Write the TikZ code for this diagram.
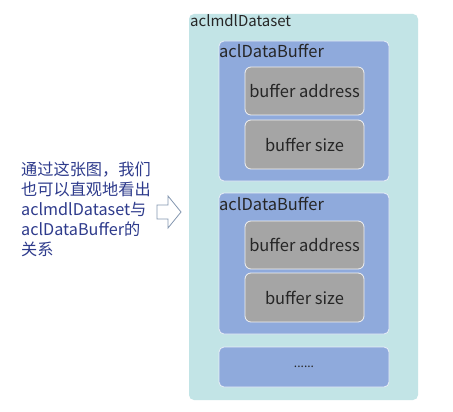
\documentclass[tikz,border=0pt]{standalone}
\usepackage{fontspec}
\setmainfont{Noto Sans CJK SC}
\definecolor{outerc}{HTML}{C2E4E6}
\definecolor{bufc}{HTML}{8FAADC}
\definecolor{grayc}{HTML}{A5A5A5}
\definecolor{navy}{HTML}{2E3B8C}
\definecolor{arrowc}{HTML}{8497B0}
\tikzset{
  outerbox/.style={fill=outerc, draw=none, rounded corners=5pt},
  bufbox/.style={fill=bufc, draw=white!80!bufc, line width=0.8pt, rounded corners=5pt},
  graybox/.style={fill=grayc, draw=white!85!grayc, line width=0.8pt, rounded corners=6pt,
     font=\fontsize{16.5}{19}\selectfont, text=black!85},
  lbl/.style={anchor=west, inner sep=0pt, font=\fontsize{15}{18}\selectfont, text=black!85},
  blbl/.style={lbl, font=\fontsize{16.5}{19}\selectfont},
  hollowarrow/.style={draw=arrowc, fill=white, line width=0.8pt, line join=miter},
}
\begin{document}
\begin{tikzpicture}[x=1pt,y=-1pt]
\useasboundingbox[fill=white] (0,0) rectangle (453,412);
% outer
\path[outerbox] (189,14) rectangle (418,400);
\node[lbl] (dslbl) at (190,21) {aclmdlDataset};
% buffer 1
\path[bufbox] (219,41) rectangle (389,181);
\node[blbl] (b1lbl) at (219,51) {aclDataBuffer};
\node[graybox, minimum width=119pt, minimum height=48pt] (b1a) at (304.5,91) {buffer address};
\node[graybox, minimum width=119pt, minimum height=49pt] (b1s) at (304.5,144.5) {buffer size};
% buffer 2
\path[bufbox] (219,193) rectangle (389,334);
\node[blbl] (b2lbl) at (219,204) {aclDataBuffer};
\node[graybox, minimum width=119pt, minimum height=48pt] (b2a) at (304.5,245) {buffer address};
\node[graybox, minimum width=119pt, minimum height=49pt] (b2s) at (304.5,297.5) {buffer size};
% dots
\path[bufbox] (219,347) rectangle (389,387);
\node[font=\fontsize{12}{14}\selectfont, text=black!85] (dots) at (304,367) {......};
% left text
\node[anchor=north west, inner sep=0pt, align=left, text=navy,
      font=\fontsize{16.2}{20}\selectfont] (desc) at (21,162)
  {通过这张图，我们\\也可以直观地看出\\aclmdlDataset与\\aclDataBuffer的\\关系};
% hollow arrow
\coordinate (arr) at (169,212);
\draw[hollowarrow] ([shift={(-12,-7)}]arr) -- ([shift={(-1,-7)}]arr) -- ([shift={(-1,-16)}]arr)
   -- ([shift={(12,0)}]arr) -- ([shift={(-1,16)}]arr) -- ([shift={(-1,7)}]arr)
   -- ([shift={(-12,7)}]arr) -- cycle;
\end{tikzpicture}
\end{document}
